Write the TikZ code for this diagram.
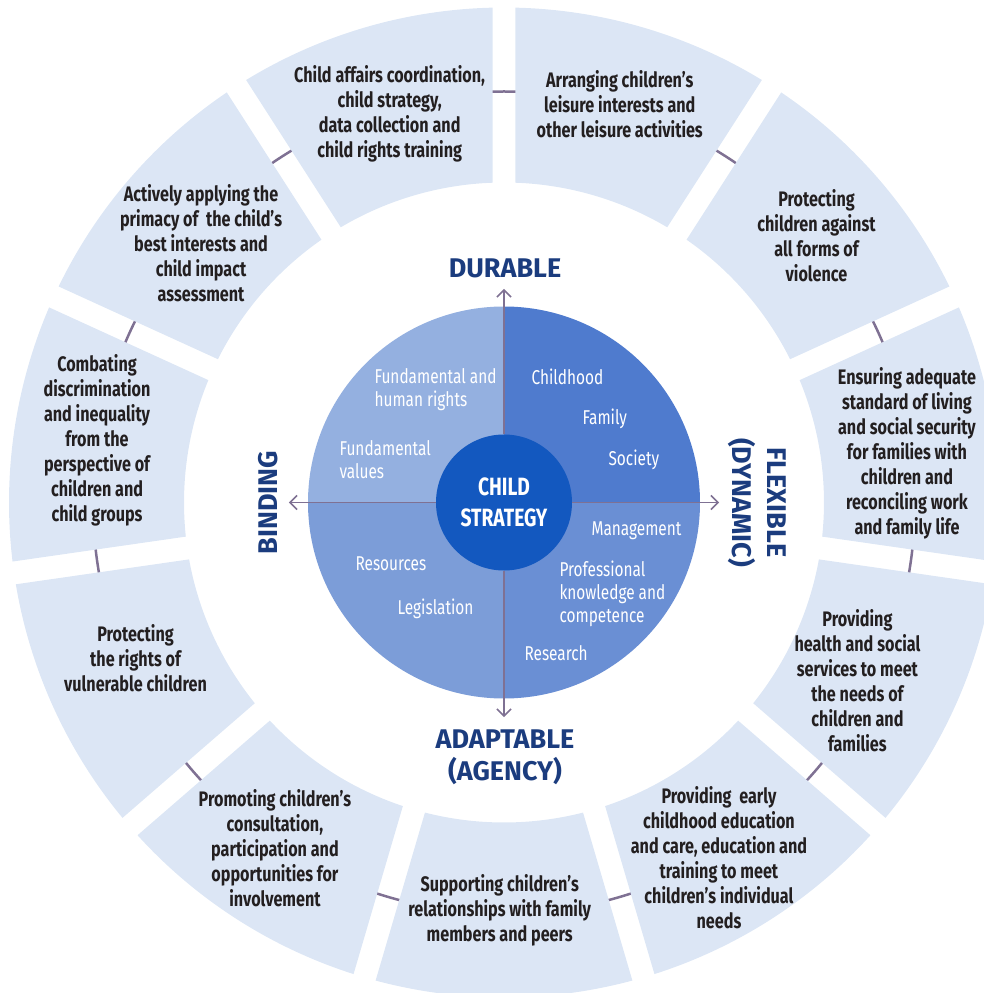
\documentclass[tikz,border=0pt]{standalone}
\usepackage{fontspec}
\setmainfont{Fira Sans}[FakeStretch=0.77]
\newfontfamily\labelfont{Fira Sans}
\usetikzlibrary{arrows.meta}

\definecolor{ringfill}{HTML}{DCE6F5}
\definecolor{linkgray}{HTML}{7F7193}
\definecolor{quadtl}{HTML}{94B0E0}
\definecolor{quadtr}{HTML}{4F7BCE}
\definecolor{quadbl}{HTML}{7C9DD8}
\definecolor{quadbr}{HTML}{6A8FD4}
\definecolor{corefill}{HTML}{1358BF}
\definecolor{navy}{HTML}{1B3C7E}
\definecolor{segtext}{HTML}{231F20}

\begin{document}
\begin{tikzpicture}[x=1pt, y=1pt,
  segtxt/.style={align=center, text=segtext, font=\fontsize{21}{25}\selectfont\bfseries},
  disctxt/.style={align=left, anchor=west, text=white, font=\fontsize{20}{23}\selectfont},
  axis/.style={draw=linkgray, line width=1.5pt, -{Straight Barb[length=7pt,width=14pt]}},
  axislabel/.style={align=center, text=navy, font=\labelfont\fontsize{27}{32}\selectfont\bfseries},
  core/.style={circle, fill=corefill, minimum size=136pt, inner sep=0pt, align=center,
    text=white, font=\fontsize{25}{31}\selectfont\bfseries}]
  \useasboundingbox (-504,-490.5) rectangle (480,502.5);

  % Links between the segments
  \draw[linkgray, line width=2.5pt] (0,0) circle[radius=411];

  % Outer ring: 11 segments, gaps of constant width
  \def\R{495}
  \def\r{320}
  \foreach \i in {0,...,10} {
    \pgfmathsetmacro\ga{90-\i*32.7273}
    \pgfmathsetmacro\gb{\ga-32.7273}
    \fill[ringfill] (\ga-1.33:\R) arc[start angle=\ga-1.33, end angle=\gb+1.33, radius=\R]
      -- (\gb+2.06:\r) arc[start angle=\gb+2.06, end angle=\ga-2.06, radius=\r] -- cycle;
  }

  % Segment texts
  \node[segtxt] (leisure) at (73.8:415) {Arranging children’s\\leisure interests and\\other leisure activities};
  \node[segtxt] (violence) at (40.5:411) {Protecting\\children against\\all forms of\\violence};
  \node[segtxt] (living) at (7.0:406) {Ensuring adequate\\standard of living\\and social security\\for families with\\children and\\reconciling work\\and family life};
  \node[segtxt] (health) at (-26.8:396) {Providing\\health and social\\services to meet\\the needs of\\children and\\families};
  \node[segtxt] (early) at (-58.8:415) {Providing\ \ early\\childhood education\\and care, education and\\training to meet\\children’s individual\\needs};
  \node[segtxt] (relations) at (-90.6:407.5) {Supporting children’s\\relationships with family\\members and peers};
  \node[segtxt] (consult) at (-123.5:415) {Promoting children’s\\consultation,\\participation and\\opportunities for\\involvement};
  \node[segtxt] (vulnerable) at (-157.1:400) {Protecting\\the rights of\\vulnerable children};
  \node[segtxt] (discrim) at (171.3:411.7) {Combating\\discrimination\\and inequality\\from the\\perspective of\\children and\\child groups};
  \node[segtxt] (primacy) at (139.4:399) {Actively applying the\\primacy of\ \ the child’s\\best interests and\\child impact\\assessment};
  \node[segtxt] (affairs) at (106.4:405) {Child affairs coordination,\\child strategy,\\data collection and\\child rights training};

  % Inner disc quadrants
  \fill[quadtr] (0,0) -- (0,196) arc[start angle=90, end angle=0, radius=196] -- cycle;
  \fill[quadtl] (0,0) -- (0,196) arc[start angle=90, end angle=180, radius=196] -- cycle;
  \fill[quadbl] (0,0) -- (-196,0) arc[start angle=180, end angle=270, radius=196] -- cycle;
  \fill[quadbr] (0,0) -- (0,-196) arc[start angle=270, end angle=360, radius=196] -- cycle;

  % Quadrant texts
  \node[disctxt] (rights) at (-133,112.5) {Fundamental and\\human rights};
  \node[disctxt] (values) at (-168,42.5) {Fundamental\\values};
  \node[disctxt] (childhood) at (24,125.5) {Childhood};
  \node[disctxt] (family) at (75,83.5) {Family};
  \node[disctxt] (society) at (101,42.5) {Society};
  \node[disctxt] (management) at (84,-28.5) {Management};
  \node[disctxt] (knowledge) at (52,-91.5) {Professional\\knowledge and\\competence};
  \node[disctxt] (research) at (17,-150.5) {Research};
  \node[disctxt] (resources) at (-152,-61.5) {Resources};
  \node[disctxt] (legislation) at (-110,-106.5) {Legislation};

  % Centre
  \node[core] (core) at (0,0) {CHILD\\STRATEGY};

  % Axes
  \coordinate (top) at (0,213.5);
  \coordinate (right) at (215,0);
  \coordinate (bottom) at (0,-214.5);
  \coordinate (left) at (-215,0);
  \draw[axis] (core) -- (top);
  \draw[axis] (core) -- (right);
  \draw[axis] (core) -- (bottom);
  \draw[axis] (core) -- (left);

  % Axis labels
  \node[axislabel] (durable) at (1,234.5) {DURABLE};
  \node[axislabel] (adaptable) at (1,-254.5) {ADAPTABLE\\(AGENCY)};
  \node[axislabel, rotate=90] (binding) at (-235.5,0) {BINDING};
  \node[axislabel, rotate=-90, font=\labelfont\fontsize{27}{35}\selectfont\bfseries] (flexible) at (253,0) {FLEXIBLE\\(DYNAMIC)};
\end{tikzpicture}
\end{document}
